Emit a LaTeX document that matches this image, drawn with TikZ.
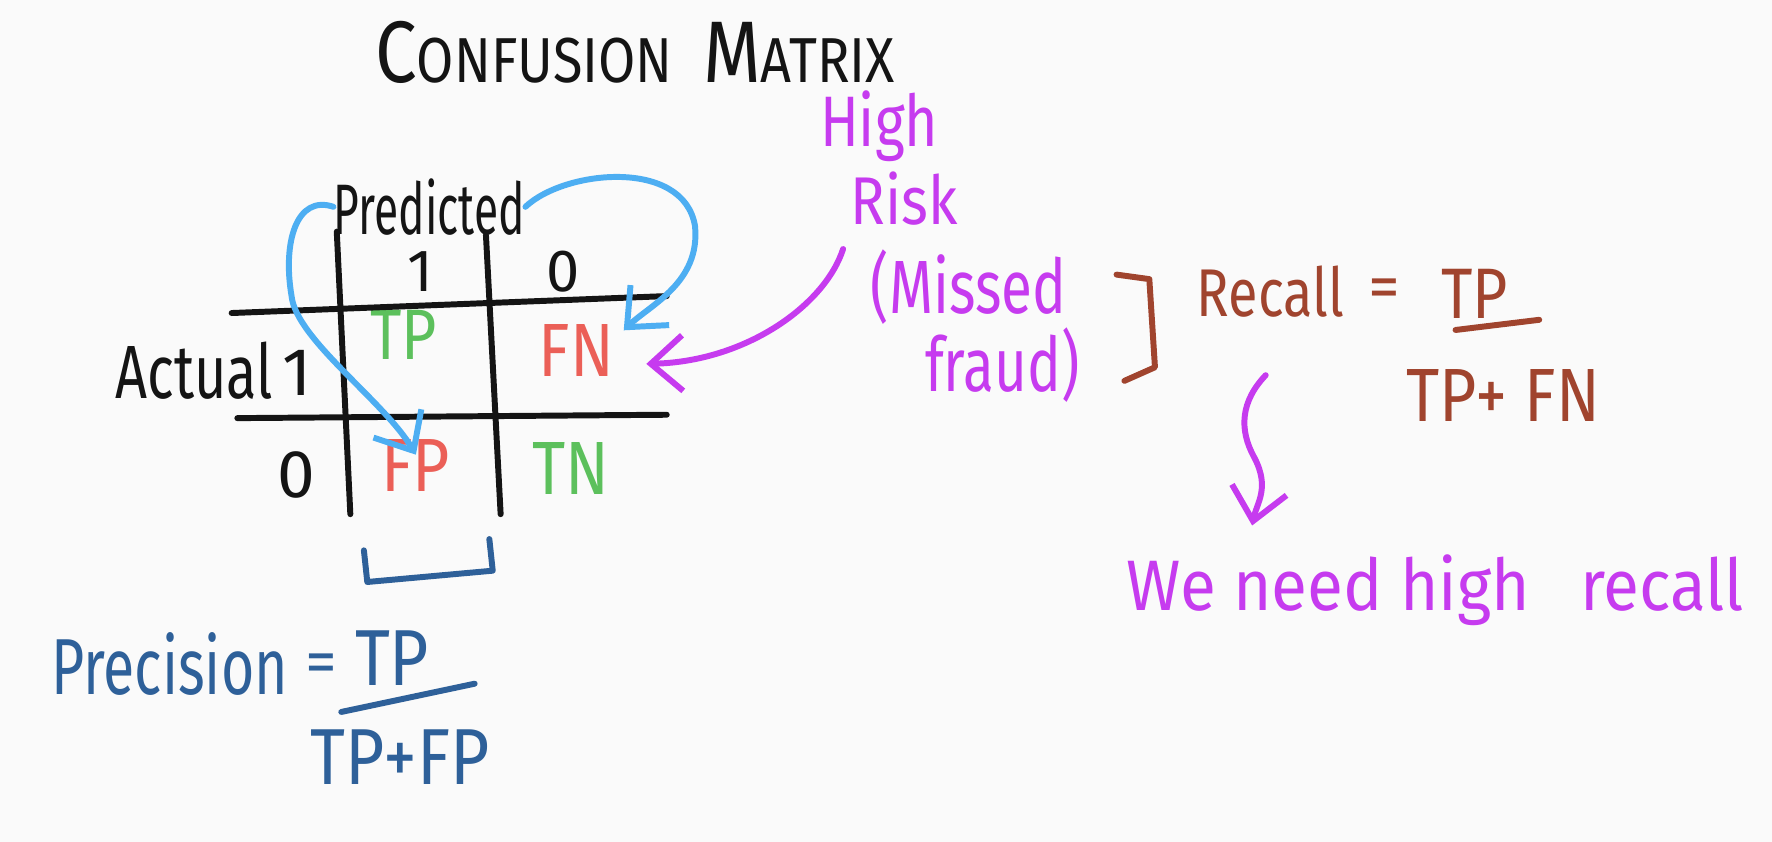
\documentclass[tikz,border=0pt]{standalone}
\usepackage{fontspec}
\setmainfont{Fira Sans}
\usetikzlibrary{arrows.meta}
\definecolor{bg}{HTML}{FAFAFA}
\definecolor{ink}{HTML}{141414}
\definecolor{okgreen}{HTML}{5CC05C}
\definecolor{badred}{HTML}{EB5F57}
\definecolor{lblue}{HTML}{4DAEF2}
\definecolor{dblue}{HTML}{2E6099}
\definecolor{mag}{HTML}{C63BEF}
\definecolor{brown}{HTML}{A0442E}
\newcommand\myfs[1]{\fontsize{#1}{#1}\selectfont}
\begin{document}
\begin{tikzpicture}[x=0.1mm,y=-0.1mm,
  txt/.style={inner sep=0pt, anchor=center},
  pen/.style={line width=1.5pt, line cap=round, line join=round},
  barb/.style={-{Straight Barb[length=8pt,width=14pt,line width=1.5pt]}}]
\fill[bg] (0,0) rectangle (1568,745);
\useasboundingbox (0,0) rectangle (1568,745);

% title
\node[txt, ink, xscale=0.85] (title) at (562,46) {{\myfs{22}C}{\myfs{16}ONFUSION}\hspace{0.9em}{\myfs{22}M}{\myfs{16}ATRIX}};

% matrix
\node[txt, ink, xscale=0.62] (pred) at (380,183) {\myfs{18}Predicted};
\node[txt, ink] (h1) at (372,240) {\myfs{15}1};
\node[txt, ink] (h0) at (498,240) {\myfs{15}0};
\node[txt, ink, xscale=0.74] (actual) at (172,328) {\myfs{19}Actual};
\node[txt, ink] (a1) at (263,330) {\myfs{17}1};
\node[txt, ink] (a0) at (262,420) {\myfs{17}0};
\node[txt, okgreen, xscale=0.85] (TP) at (357,296) {\myfs{18}TP};
\node[txt, badred, xscale=0.85] (FN) at (510,310) {\myfs{19}FN};
\node[txt, badred, xscale=0.85] (FP) at (368,412) {\myfs{19}FP};
\node[txt, okgreen, xscale=0.85] (TN) at (505,415) {\myfs{19}TN};

\draw[pen, ink] (298,205) -- (310,455);
\draw[pen, ink] (430,208) -- (443,455);
\draw[pen, ink] (205,277) -- (590,262);
\draw[pen, ink] (210,370) -- (590,367);

% precision bracket
\draw[pen, dblue] (322,487) -- (325,515) -- (436,505) -- (433,477);

% blue arrows
\draw[pen, lblue, barb] (pred.west) .. controls (262,172) and (250,215) .. (258,262)
   .. controls (262,300) and (340,355) .. ([yshift=-4]FP.north);
\draw[pen, lblue, barb] (pred.east) .. controls (500,150) and (605,140) .. (615,200)
   .. controls (620,250) and (575,270) .. ([shift={(8,6)}]FN.north east);

% high risk
\node[txt, mag, xscale=0.8] (high) at (778,112) {\myfs{18}High};
\node[txt, mag, xscale=0.85] (risk) at (800,176) {\myfs{17}Risk};
\draw[pen, mag, barb] ([shift={(-6,20)}]risk.south west) .. controls (730,270) and (660,320) .. ([shift={(28,12)}]FN.east);

\node[txt, mag, xscale=0.75] (missed) at (857,254) {\myfs{19}(Missed};
\node[txt, mag, xscale=0.75] (fraud) at (887,323) {\myfs{19}fraud)};

% recall
\draw[pen, brown] (988,243) -- (1017,247) -- (1022,325) -- (995,337);
\node[txt, brown, xscale=0.8] (recall) at (1124,258) {\myfs{17}Recall};
\node[txt, brown] (eq1) at (1225,260) {\myfs{16}=};
\node[txt, brown, xscale=0.85] (rtp) at (1305,260) {\myfs{18}TP};
\draw[pen, brown] (1288,292) -- (1362,283);
\node[txt, brown, xscale=0.85] (rden) at (1330,350) {\myfs{19}TP+ FN};

\coordinate (sq) at (1120,332);
\draw[pen, mag, barb] (sq) .. controls (1098,355) and (1096,380) .. (1110,405)
   .. controls (1124,432) and (1112,445) .. (1108,465);
\node[txt, mag, xscale=0.92] (need) at (1270,522) {\myfs{18}We need high\hspace{0.5em} recall};

% precision
\node[txt, dblue, xscale=0.72] (prec) at (150,588) {\myfs{20}Precision};
\node[txt, dblue] (eq2) at (284,592) {\myfs{16}=};
\node[txt, dblue, xscale=0.85] (ptp) at (347,582) {\myfs{20}TP};
\draw[pen, dblue] (302,630) -- (420,605);
\node[txt, dblue, xscale=0.85] (pden) at (354,670) {\myfs{20}TP+FP};
\end{tikzpicture}
\end{document}
